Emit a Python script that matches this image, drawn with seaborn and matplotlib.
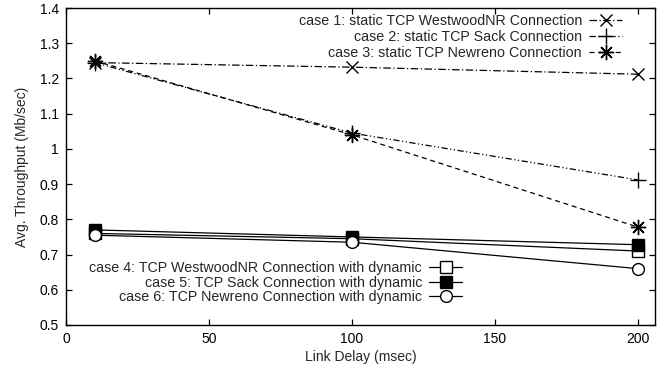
import matplotlib
matplotlib.use("Agg")
import matplotlib.pyplot as plt
import seaborn as sns
import pandas as pd

# Link delay settings (msec)
delays = [10, 100, 200]

# Average throughput (Mb/sec) for each case
case1_westwood_static = [1.245, 1.232, 1.212]
case2_sack_static = [1.245, 1.045, 0.912]
case3_newreno_static = [1.250, 1.040, 0.778]
case4_westwood_dynamic = [0.760, 0.745, 0.710]
case5_sack_dynamic = [0.770, 0.750, 0.728]
case6_newreno_dynamic = [0.755, 0.735, 0.660]

labels = [
    "case 1: static TCP WestwoodNR Connection",
    "case 2: static TCP Sack Connection",
    "case 3: static TCP Newreno Connection",
    "case 4: TCP WestwoodNR Connection with dynamic",
    "case 5: TCP Sack Connection with dynamic",
    "case 6: TCP Newreno Connection with dynamic",
]
series = [case1_westwood_static, case2_sack_static, case3_newreno_static,
          case4_westwood_dynamic, case5_sack_dynamic, case6_newreno_dynamic]

sns.set_theme(style="ticks")
plt.rcParams["font.family"] = ["Liberation Sans", "DejaVu Sans"]
plt.rcParams["font.size"] = 10

styles = [
    dict(marker="x", markersize=8.5, mfc="black", linestyle=(0, (6, 2, 1, 2))),
    dict(marker="+", markersize=11, mfc="black", linestyle=(0, (5, 2, 1, 2, 1, 2))),
    dict(marker=(8, 2, 0), markersize=11, mfc="black", linestyle=(0, (4, 3))),
    dict(marker="s", markersize=8, mfc="white", linestyle="-"),
    dict(marker="s", markersize=8, mfc="black", linestyle="-"),
    dict(marker="o", markersize=8.5, mfc="white", linestyle="-"),
]

fig = plt.figure(figsize=(6.68, 3.74), dpi=100)
ax = fig.add_axes([66 / 668, 1 - 325 / 374, 589 / 668, 317 / 374])

for lab, vals, st in zip(labels, series, styles):
    df = pd.DataFrame({"delay": delays, "thr": vals})
    sns.lineplot(data=df, x="delay", y="thr", ax=ax, color="black",
                 linewidth=0.9, markeredgecolor="black", markeredgewidth=1.0,
                 label=lab, **st)

ax.set_xlim(0, 206)
ax.set_ylim(0.5, 1.4)
ax.set_xticks([0, 50, 100, 150, 200])
ax.set_yticks([0.5, 0.6, 0.7, 0.8, 0.9, 1.0, 1.1, 1.2, 1.3, 1.4])
ax.set_yticklabels(["0.5", "0.6", "0.7", "0.8", "0.9", "1", "1.1", "1.2", "1.3", "1.4"])
ax.set_xlabel("Link Delay (msec)", fontsize=10, labelpad=3)
ax.set_ylabel("Avg. Throughput (Mb/sec)", fontsize=10, labelpad=8)
ax.tick_params(direction="in", length=4, width=0.9, top=True, right=True,
               labelsize=10, colors="black", pad=5)
for sp in ax.spines.values():
    sp.set_linewidth(1.0)
    sp.set_color("black")

handles, labs = ax.get_legend_handles_labels()
if ax.get_legend():
    ax.get_legend().remove()

common = dict(frameon=False, markerfirst=False, handlelength=2.3,
              handletextpad=0.5, borderpad=0.0, borderaxespad=0.0,
              fontsize=10.3)
leg1 = ax.legend(handles[:3], labs[:3], loc="upper right", labelspacing=0.15,
                 bbox_to_anchor=((622 - 66) / 589, (325 - 14) / 317), **common)
ax.add_artist(leg1)
ax.legend(handles[3:], labs[3:], loc="upper right", labelspacing=0.05,
          bbox_to_anchor=((462 - 66) / 589, (325 - 261) / 317), **common)

fig.savefig("out.png", dpi=100)
